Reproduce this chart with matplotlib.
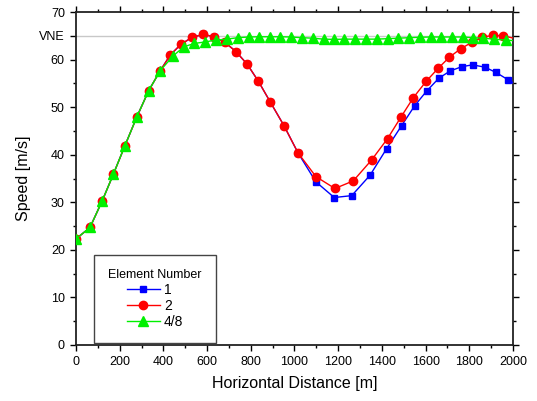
import matplotlib
matplotlib.use("Agg")
import matplotlib.pyplot as plt
from matplotlib.ticker import FixedLocator, MultipleLocator

plt.rcParams['font.family'] = ['Liberation Sans', 'DejaVu Sans']

# Element 1 (blue squares)
x_e1 = [0, 64, 120, 171, 224, 278, 333, 386, 432, 480, 532, 583, 632, 682, 732, 784, 834,
        889, 952, 1016, 1098, 1182, 1262, 1346, 1422, 1490, 1550, 1605, 1661, 1712, 1765,
        1815, 1872, 1922, 1976, 2030]
y_e1 = [22.3, 24.7, 30.3, 35.9, 41.9, 47.9, 53.5, 57.7, 61.0, 63.2, 64.7, 65.3, 64.8, 63.6,
        61.7, 59.0, 55.5, 51.1, 46.1, 40.4, 34.3, 31.0, 31.4, 35.7, 41.3, 46.1, 50.3, 53.4,
        56.1, 57.6, 58.5, 58.9, 58.4, 57.3, 55.8, 54.3]

# Element 2 (red circles)
x_e2 = [0, 64, 120, 171, 224, 278, 333, 386, 432, 480, 532, 583, 632, 682, 732, 784, 834,
        889, 952, 1016, 1098, 1185, 1269, 1353, 1426, 1487, 1544, 1602, 1658, 1709, 1761,
        1811, 1857, 1907, 1956, 2030]
y_e2 = [22.3, 24.7, 30.3, 35.9, 41.9, 47.9, 53.5, 57.7, 61.0, 63.2, 64.7, 65.3, 64.8, 63.6,
        61.7, 59.0, 55.5, 51.1, 46.1, 40.4, 35.4, 32.9, 34.5, 38.9, 43.4, 47.9, 52.0, 55.4,
        58.2, 60.5, 62.3, 63.6, 64.7, 65.1, 65.0, 64.2]

# Element 4/8 (green triangles)
x_e48 = [0, 64, 120, 171, 224, 278, 333, 386, 445, 494, 542, 590, 639, 690, 740, 790, 839,
         888, 935, 985, 1034, 1085, 1133, 1182, 1228, 1277, 1327, 1376, 1426, 1475, 1524,
         1574, 1623, 1670, 1721, 1770, 1818, 1864, 1914, 1966, 2030]
y_e48 = [22.3, 24.7, 30.3, 35.9, 41.9, 47.9, 53.5, 57.7, 60.8, 62.7, 63.4, 63.7, 64.1, 64.3,
         64.6, 64.75, 64.8, 64.8, 64.8, 64.75, 64.6, 64.5, 64.3, 64.25, 64.3, 64.3, 64.3,
         64.3, 64.4, 64.5, 64.6, 64.7, 64.75, 64.75, 64.75, 64.75, 64.6, 64.5, 64.3, 64.1, 63.9]

vne = 65
y_ticks = [0, 10, 20, 30, 40, 50, 60, 65, 70]
y_ticklabels = ['0', '10', '20', '30', '40', '50', '60', 'VNE', '70']
x_ticks = [0, 200, 400, 600, 800, 1000, 1200, 1400, 1600, 1800, 2000]

fig = plt.figure(figsize=(5.37, 4.01), dpi=100)
ax = fig.add_axes([0.1415, 0.1397, 0.8138, 0.8303])

ax.axhline(vne, color='#c8c8c8', lw=1.0, zorder=1)

ax.plot(x_e1, y_e1, color='#0000ff', lw=1.0, marker='s', ms=5, mec='#0000ff',
        mfc='#0000ff', label='1', zorder=3)
ax.plot(x_e2, y_e2, color='#ff0000', lw=1.0, marker='o', ms=6, mec='#ff0000',
        mfc='#ff0000', label='2', zorder=4)
ax.plot(x_e48, y_e48, color='#00f000', lw=1.0, marker='^', ms=6.5, mec='#00f000',
        mfc='#00f000', label='4/8', zorder=5)

ax.set_xlim(0, 2000)
ax.set_ylim(0, 70)
ax.set_xticks(x_ticks)
ax.xaxis.set_minor_locator(MultipleLocator(100))
ax.yaxis.set_major_locator(FixedLocator(y_ticks))
ax.set_yticklabels(y_ticklabels)
ax.yaxis.set_minor_locator(FixedLocator([5, 15, 25, 35, 45, 55]))

ax.tick_params(which='both', direction='out', top=True, right=True, width=1.0,
               labelsize=9, colors='black')
ax.tick_params(which='major', length=4.5)
ax.tick_params(which='minor', length=2.5)
for s in ax.spines.values():
    s.set_linewidth(1.3)
    s.set_color('#222222')

ax.set_xlabel('Horizontal Distance [m]', fontsize=11.5, labelpad=6)
ax.set_ylabel('Speed [m/s]', fontsize=11.5, labelpad=6)

leg = ax.legend(loc='lower left', bbox_to_anchor=(0.042, 0.006), title='Element Number',
                fontsize=10, title_fontsize=9, fancybox=False, framealpha=1,
                edgecolor='#444444', numpoints=1, handlelength=2.4, borderpad=1.0,
                labelspacing=0.15, handletextpad=0.3, borderaxespad=0)
leg.get_frame().set_linewidth(1.0)
leg.set_zorder(10)

fig.savefig('out.png', dpi=100)
